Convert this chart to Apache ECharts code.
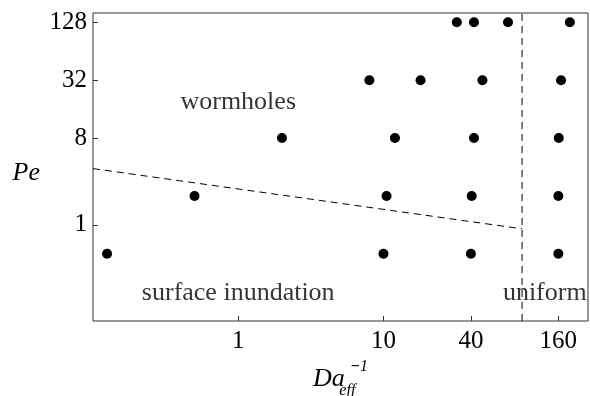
<!DOCTYPE html>
<html>
<head>
<meta charset="utf-8">
<script src="https://cdn.jsdelivr.net/npm/echarts@6/dist/echarts.min.js"></script>
<style>html,body{margin:0;padding:0;background:#fff;}#c{width:590px;height:396px;}</style>
</head>
<body>
<div id="c"></div>
<script>
// Simulation points: [Da_eff^-1, Pe]
var pointsDa = [0.125, 10, 40, 160,   0.5, 10.5, 40.5, 160,   2, 12, 42, 161,   8, 18, 48, 167,   32, 42, 72, 192];
var pointsPe = [0.5, 0.5, 0.5, 0.5,   2, 2, 2, 2,             8, 8, 8, 8,       32, 32, 32, 32,   128, 128, 128, 128];
// Regime boundaries
var boundaryDa = [0.1, 90];
var boundaryPe = [3.85, 0.91];
var uniformDa = [90, 90];
var uniformPe = [0.1, 160];
// Regime labels
var regionNames = ['wormholes', 'surface inundation', 'uniform'];
var regionDa = [1, 1, 129];
var regionPe = [18.9, 0.193, 0.193];
// Tick labels
var xTicks = [1, 10, 40, 160];
var yTicks = [1, 8, 32, 128];

var FONT = '"Liberation Serif", "DejaVu Serif", serif';
var chart = echarts.init(document.getElementById('c'));
chart.setOption({
  animation: false,
  backgroundColor: '#fff',
  grid: { left: 93, right: 2, top: 13, bottom: 75, show: true, borderColor: '#333', borderWidth: 1, containLabel: false, outerBoundsMode: 'none' },
  xAxis: {
    type: 'log', logBase: 10, min: 0.1, max: 256,
    axisLine: { show: false },
    splitLine: { show: false },
    minorTick: { show: false },
    axisTick: { show: true, inside: true, length: 5, lineStyle: { color: '#333' }, customValues: xTicks },
    axisLabel: { customValues: xTicks, color: '#000', fontFamily: FONT, fontSize: 25, margin: 8 },
    name: '{it|Da}{sub|eff}{m|−}{one|1}',
    nameLocation: 'middle', nameGap: 38,
    nameTextStyle: {
      rich: {
        it: { fontFamily: FONT, fontStyle: 'italic', fontSize: 26, color: '#000', lineHeight: 40, verticalAlign: 'middle' },
        sub: { fontFamily: FONT, fontStyle: 'italic', fontSize: 16, color: '#000', lineHeight: 14, verticalAlign: 'bottom', width: 1, padding: [0, 0, 0, 2] },
        m: { fontFamily: FONT, fontWeight: 'bold', fontSize: 16, color: '#000', lineHeight: 14, verticalAlign: 'top', padding: [0, 0, 0, 3] },
        one: { fontFamily: FONT, fontStyle: 'italic', fontSize: 16, color: '#000', lineHeight: 14, verticalAlign: 'top' }
      }
    }
  },
  yAxis: {
    type: 'log', logBase: 2, min: 0.1, max: 160,
    axisLine: { show: false },
    splitLine: { show: false },
    minorTick: { show: false },
    axisTick: { show: true, inside: true, length: 5, lineStyle: { color: '#333' }, customValues: yTicks },
    axisLabel: { customValues: yTicks, color: '#000', fontFamily: FONT, fontSize: 25, margin: 6 },
    name: '{p|Pe}', nameLocation: 'middle', nameRotate: 0, nameGap: 53,
    nameTextStyle: {
      align: 'right',
      rich: { p: { fontFamily: FONT, fontStyle: 'italic', fontSize: 26, color: '#000', padding: [12, 0, 0, 0] } }
    }
  },
  series: [
    {
      type: 'line', data: boundaryDa.map(function (v, i) { return [v, boundaryPe[i]]; }),
      symbol: 'none', lineStyle: { color: '#000', width: 1, type: [7, 5] }, silent: true
    },
    {
      type: 'line', data: uniformDa.map(function (v, i) { return [v, uniformPe[i]]; }),
      symbol: 'none', lineStyle: { color: '#000', width: 1, type: [7, 5] }, silent: true
    },
    {
      type: 'scatter', data: pointsDa.map(function (v, i) { return [v, pointsPe[i]]; }),
      symbol: 'circle', symbolSize: 10, itemStyle: { color: '#000', opacity: 1 }
    },
    {
      type: 'scatter', symbolSize: 0,
      data: regionDa.map(function (v, i) { return { value: [v, regionPe[i]], name: regionNames[i] }; }),
      label: { show: true, position: 'inside', formatter: '{b}', color: '#000', fontFamily: FONT, fontSize: 26 }
    }
  ]
});
</script>
</body>
</html>
